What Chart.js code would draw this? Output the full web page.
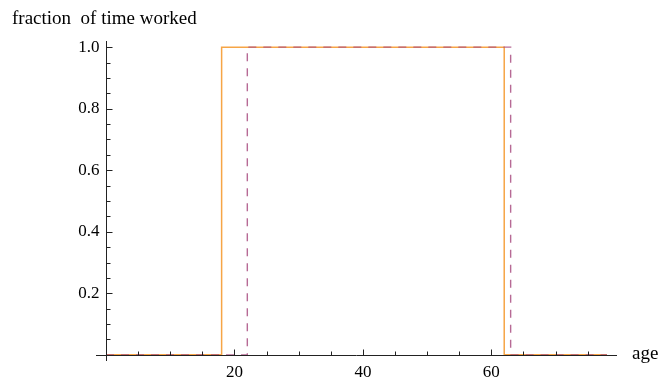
<!DOCTYPE html>
<html>
<head>
<meta charset="utf-8">
<script src="https://cdn.jsdelivr.net/npm/chart.js@4/dist/chart.umd.min.js"></script>
<style>
    html, body { margin: 0; padding: 0; background: #fff; }
    #wrap { width: 660px; height: 385px; }
</style>
</head>
<body>
<div id="wrap"><canvas id="workChart"></canvas></div>
<script>
// data
const ageA = [0, 18, 62, 78];
const workedA = [0, 1, 0, 0];
const ageB = [0, 22, 63, 78];
const workedB = [0, 1, 0, 0];

const xTickLabels = [20, 40, 60];
const yTickLabels = [0.2, 0.4, 0.6, 0.8, 1.0];

const TICK_FONT = "17px 'Liberation Serif', 'DejaVu Serif', serif";
const LABEL_FONT = "19px 'Liberation Serif', 'DejaVu Serif', serif";

function toPoints(xs, ys) {
    return xs.map((x, i) => ({ x: x, y: ys[i] }));
}

// Mathematica style axes crossing at origin, ticks pointing inward
const axesPlugin = {
    id: "axesPlugin",
    afterDatasetsDraw(chart) {
        const { ctx, chartArea, scales } = chart;
        const xs = scales.x;
        const ys = scales.y;
        const x0 = Math.round(xs.getPixelForValue(0)) + 0.5;
        const y0 = Math.round(ys.getPixelForValue(0)) + 0.5;

        ctx.save();
        ctx.strokeStyle = "#222";
        ctx.lineWidth = 1;
        ctx.beginPath();
        ctx.moveTo(chartArea.left, y0);
        ctx.lineTo(chartArea.right, y0);
        ctx.moveTo(x0, chartArea.bottom);
        ctx.lineTo(x0, chartArea.top);

        // x ticks, minor every 5
        for (let v = 5; v <= xs.max; v += 5) {
            const px = Math.round(xs.getPixelForValue(v)) + 0.5;
            const len = xTickLabels.includes(v) ? 6 : 4;
            ctx.moveTo(px, y0);
            ctx.lineTo(px, y0 - len);
        }
        // y ticks, minor every 0.05
        for (let k = 1; k * 0.05 <= ys.max + 1e-9; k++) {
            const v = k * 0.05;
            const py = Math.round(ys.getPixelForValue(v)) + 0.5;
            const len = (k % 4 === 0) ? 6 : 4;
            ctx.moveTo(x0, py);
            ctx.lineTo(x0 + len, py);
        }
        ctx.stroke();

        // labels
        ctx.fillStyle = "#000";
        ctx.font = TICK_FONT;
        ctx.textAlign = "center";
        ctx.textBaseline = "top";
        xTickLabels.forEach(v => {
            ctx.fillText(String(v), xs.getPixelForValue(v), y0 + 9);
        });
        ctx.textAlign = "right";
        ctx.textBaseline = "middle";
        yTickLabels.forEach(v => {
            ctx.fillText(v.toFixed(1), x0 - 7, ys.getPixelForValue(v));
        });

        ctx.font = LABEL_FONT;
        ctx.textAlign = "left";
        ctx.textBaseline = "alphabetic";
        ctx.fillText("fraction  of time worked", 12, 24);
        ctx.textBaseline = "middle";
        ctx.fillText("age", 632, y0 - 1);
        ctx.restore();
    }
};

document.addEventListener("DOMContentLoaded", () => {
    const ctx = document.getElementById("workChart");

    new Chart(ctx, {
        type: "line",
        data: {
            datasets: [
                {
                    label: "later start",
                    data: toPoints(ageB, workedB),
                    borderColor: "rgba(170, 80, 130, 0.85)",
                    borderWidth: 1.4,
                    borderDash: [8, 7],
                    stepped: "before",
                    pointRadius: 0,
                    fill: false
                },
                {
                    label: "earlier start",
                    data: toPoints(ageA, workedA),
                    borderColor: "rgba(245, 160, 60, 0.95)",
                    borderWidth: 1.5,
                    stepped: "before",
                    pointRadius: 0,
                    fill: false
                }
            ]
        },
        options: {
            responsive: true,
            maintainAspectRatio: false,
            animation: false,
            layout: {
                padding: { left: 96, right: 43, top: 41, bottom: 24 }
            },
            plugins: {
                legend: { display: false },
                tooltip: { enabled: false }
            },
            scales: {
                x: {
                    type: "linear",
                    min: -1.56,
                    max: 79.56,
                    display: false
                },
                y: {
                    min: -0.02,
                    max: 1.02,
                    display: false
                }
            }
        },
        plugins: [axesPlugin]
    });
});
</script>
</body>
</html>
